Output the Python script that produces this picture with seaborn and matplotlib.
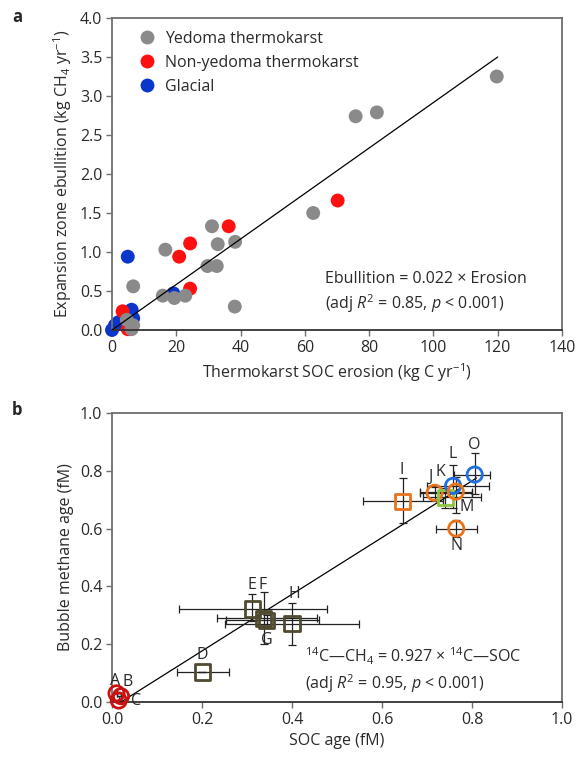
import matplotlib
matplotlib.use("Agg")
import matplotlib.pyplot as plt
import pandas as pd
import seaborn as sns

# ----------------------------------------------------------
# Panel a data: erosion vs ebullition
# ----------------------------------------------------------

YEDOMA_X = [119.7, 75.8, 82.4, 62.6, 31.1, 32.9, 38.3, 16.6, 29.7, 32.6,
            6.6, 15.8, 19.4, 22.8, 38.2, 4.6, 6.6, 6.1]
YEDOMA_Y = [3.25, 2.74, 2.79, 1.50, 1.33, 1.10, 1.13, 1.03, 0.82, 0.82,
            0.56, 0.44, 0.41, 0.44, 0.30, 0.13, 0.06, 0.01]

NONYED_X = [70.2, 36.3, 24.3, 20.9, 24.3, 3.3, 4.9]
NONYED_Y = [1.66, 1.33, 1.11, 0.94, 0.53, 0.24, 0.01]

GLACIAL_X = [4.9, 19.1, 6.1, 6.6, 0.0, 0.9, 2.0, 5.5]
GLACIAL_Y = [0.94, 0.47, 0.26, 0.15, 0.0, 0.06, 0.10, 0.12]

FIT_A_X = [0, 120]
FIT_A_Y = [0, 3.5]

# ----------------------------------------------------------
# Panel b data: SOC age vs bubble methane age
# ----------------------------------------------------------

SITE_IDS = list("ABCDEFGHIJKLMNO")
SOC_AGE = [0.010, 0.020, 0.015, 0.201, 0.312, 0.337, 0.344, 0.400,
           0.646, 0.717, 0.741, 0.758, 0.764, 0.765, 0.806]
CH4_AGE = [0.030, 0.020, 0.005, 0.104, 0.322, 0.289, 0.283, 0.271,
           0.695, 0.724, 0.708, 0.748, 0.728, 0.600, 0.787]
SOC_LO = [0.010, 0.020, 0.015, 0.144, 0.149, 0.233, 0.254, 0.250,
          0.557, 0.684, 0.690, 0.700, 0.684, 0.721, 0.760]
SOC_HI = [0.010, 0.020, 0.015, 0.259, 0.477, 0.456, 0.461, 0.548,
          0.735, 0.800, 0.820, 0.837, 0.800, 0.810, 0.840]
CH4_LO = [0.030, 0.020, 0.005, 0.104, 0.280, 0.202, 0.260, 0.196,
          0.620, 0.700, 0.670, 0.670, 0.653, 0.570, 0.720]
CH4_HI = [0.030, 0.020, 0.005, 0.104, 0.372, 0.381, 0.300, 0.344,
          0.776, 0.745, 0.740, 0.819, 0.780, 0.630, 0.860]

FIT_B_X = [0.02, 0.81]
FIT_B_Y = [0.0, 0.775]

RED = "#cc1010"
OLIVE = "#4f4a30"
ORANGE = "#e8731c"
GREEN = "#8cc63e"
BLUE = "#1f6fe5"

SITE_COLORS = {
    "A": RED, "B": RED, "C": RED,
    "D": OLIVE, "E": OLIVE, "F": OLIVE, "G": OLIVE, "H": OLIVE,
    "I": ORANGE, "J": ORANGE, "K": GREEN, "L": BLUE,
    "M": ORANGE, "N": ORANGE, "O": BLUE,
}
SITE_MARKERS = {
    "A": "o", "B": "o", "C": "o",
    "D": "s", "E": "s", "F": "s", "G": "s", "H": "s",
    "I": "s", "J": "o", "K": "s", "L": "o",
    "M": "o", "N": "o", "O": "o",
}
# label offsets in pixels
LABEL_OFFSETS = {
    "A": (-1, 12), "B": (7, 14), "C": (17, 0), "D": (0, 17),
    "E": (0, 24), "F": (-1, 33), "G": (0, -20), "H": (2, 30),
    "I": (-1, 31), "J": (-4, 16), "K": (-5, 25), "L": (0, 32),
    "M": (11, -15), "N": (0, -17), "O": (0, 30),
}

# ----------------------------------------------------------
# Style
# ----------------------------------------------------------

sns.set_style("ticks")
plt.rcParams["font.family"] = ["Open Sans", "DejaVu Sans"]
plt.rcParams["mathtext.fontset"] = "custom"
plt.rcParams["mathtext.rm"] = "Open Sans"
plt.rcParams["mathtext.it"] = "Open Sans:italic"
plt.rcParams["mathtext.bf"] = "Open Sans:bold"

SPINE = "#6e6e6e"
TEXT = "#2a2a2a"
FS = 11.5


def style_axes(ax):
    for side in ["left", "right", "top", "bottom"]:
        ax.spines[side].set_visible(True)
        ax.spines[side].set_color(SPINE)
        ax.spines[side].set_linewidth(1.3)
    ax.spines["bottom"].set_color("#333333")
    ax.tick_params(direction="out", length=4, width=1, color=SPINE,
                   labelsize=FS, labelcolor=TEXT, pad=3)
    ax.tick_params(top=False, right=False)


fig = plt.figure(figsize=(5.84, 7.62), dpi=100)
ax1 = fig.add_axes([112 / 584, 1 - 330 / 762, 450 / 584, 312 / 762])
ax2 = fig.add_axes([112 / 584, 1 - 702 / 762, 450 / 584, 289 / 762])

# ----------------------------------------------------------
# Panel a
# ----------------------------------------------------------

df_a = pd.concat([
    pd.DataFrame({"x": GLACIAL_X, "y": GLACIAL_Y, "type": "Glacial"}),
    pd.DataFrame({"x": NONYED_X, "y": NONYED_Y, "type": "Non-yedoma thermokarst"}),
    pd.DataFrame({"x": YEDOMA_X, "y": YEDOMA_Y, "type": "Yedoma thermokarst"}),
], ignore_index=True)

palette_a = {
    "Yedoma thermokarst": "#8a8a8a",
    "Non-yedoma thermokarst": "#ff1010",
    "Glacial": "#0a36cc",
}

ax1.plot(FIT_A_X, FIT_A_Y, color="black", lw=0.9, zorder=3)
sns.scatterplot(
    data=df_a, x="x", y="y", hue="type",
    hue_order=["Yedoma thermokarst", "Non-yedoma thermokarst", "Glacial"],
    palette=palette_a, s=100, linewidth=0, clip_on=False, zorder=2, ax=ax1,
)
ax1.set_xlim(0, 140)
ax1.set_ylim(0, 4)
ax1.set_xticks(range(0, 141, 20))
ax1.set_yticks([i * 0.5 for i in range(9)])
ax1.set_yticklabels([f"{i * 0.5:.1f}" for i in range(9)])
ax1.set_xlabel("Thermokarst SOC erosion (kg C yr$^{-1}$)", fontsize=FS, color=TEXT)
ax1.set_ylabel("Expansion zone ebullition (kg CH$_4$ yr$^{-1}$)", fontsize=FS, color=TEXT)
style_axes(ax1)

leg = ax1.legend(loc="upper left", bbox_to_anchor=(0.035, 0.97),
                 frameon=False, fontsize=FS,
                 handletextpad=0.15, borderaxespad=0.0, labelspacing=0.5,
                 markerscale=1.0, borderpad=0.2)
for t in leg.get_texts():
    t.set_color(TEXT)

ax1.text(0.473, 0.118, "Ebullition = 0.022 × Erosion\n(adj $R^2$ = 0.85, $p$ < 0.001)",
         transform=ax1.transAxes, fontsize=FS, color=TEXT, va="center",
         linespacing=1.3)

# ----------------------------------------------------------
# Panel b
# ----------------------------------------------------------

df_b = pd.DataFrame({
    "site": SITE_IDS, "soc": SOC_AGE, "ch4": CH4_AGE,
    "soc_lo": SOC_LO, "soc_hi": SOC_HI, "ch4_lo": CH4_LO, "ch4_hi": CH4_HI,
})

ax2.plot(FIT_B_X, FIT_B_Y, color="black", lw=0.9, zorder=2)
ax2.errorbar(
    df_b["soc"], df_b["ch4"],
    xerr=[df_b["soc"] - df_b["soc_lo"], df_b["soc_hi"] - df_b["soc"]],
    yerr=[df_b["ch4"] - df_b["ch4_lo"], df_b["ch4_hi"] - df_b["ch4"]],
    fmt="none", ecolor="#222222", elinewidth=0.9, capsize=3, capthick=0.9,
    zorder=3,
)
sns.scatterplot(
    data=df_b, x="soc", y="ch4", hue="site", style="site",
    palette=SITE_COLORS, markers=SITE_MARKERS, s=120, legend=False,
    clip_on=False, zorder=4, ax=ax2,
)
for coll in ax2.collections:
    if hasattr(coll, "get_offsets") and len(coll.get_offsets()) == len(SITE_IDS):
        cols = coll.get_facecolors()
        if len(cols) == len(SITE_IDS):
            coll.set_edgecolors(cols)
            coll.set_facecolors("none")
            coll.set_linewidths(2.0)

for site, x, y in zip(SITE_IDS, SOC_AGE, CH4_AGE):
    dx, dy = LABEL_OFFSETS[site]
    ax2.annotate(site, (x, y), xytext=(dx, dy), textcoords="offset pixels",
                 ha="center", va="center", fontsize=FS, color=TEXT, zorder=5)

ax2.set_xlim(0, 1)
ax2.set_ylim(0, 1)
ax2.set_xticks([0, 0.2, 0.4, 0.6, 0.8, 1.0])
ax2.set_xticklabels(["0.0", "0.2", "0.4", "0.6", "0.8", "1.0"])
ax2.set_yticks([0, 0.2, 0.4, 0.6, 0.8, 1.0])
ax2.set_yticklabels(["0.0", "0.2", "0.4", "0.6", "0.8", "1.0"])
ax2.set_xlabel("SOC age (fM)", fontsize=FS, color=TEXT)
ax2.set_ylabel("Bubble methane age (fM)", fontsize=FS, color=TEXT)
style_axes(ax2)

ax2.text(0.429, 0.109, "$^{14}$C—CH$_4$ = 0.927 × $^{14}$C—SOC\n(adj $R^2$ = 0.95, $p$ < 0.001)",
         transform=ax2.transAxes, fontsize=FS, color=TEXT, va="center",
         linespacing=1.3)

# ----------------------------------------------------------
# Panel letters
# ----------------------------------------------------------

fig.text(12 / 584, 1 - 17 / 762, "a", fontsize=12, fontweight="bold", va="center")
fig.text(12 / 584, 1 - 410 / 762, "b", fontsize=12, fontweight="bold", va="center")

fig.savefig("out.png", dpi=100)
